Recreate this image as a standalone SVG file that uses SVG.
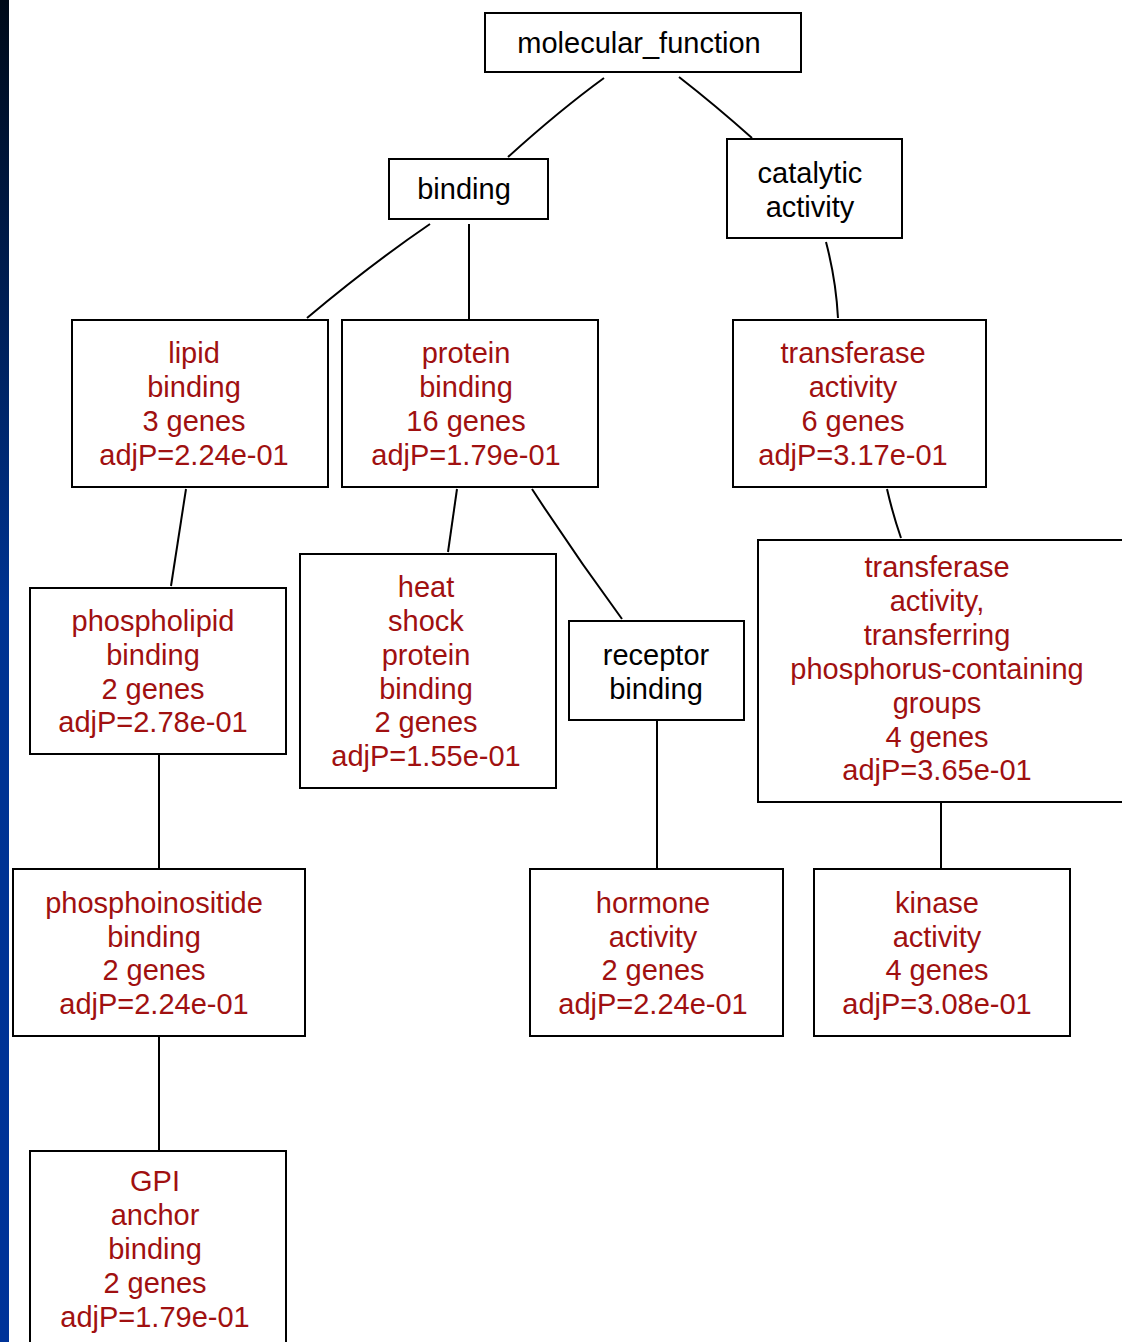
<svg xmlns="http://www.w3.org/2000/svg" width="1122" height="1342" viewBox="0 0 1122 1342">
<defs>
<linearGradient id="strip" x1="0" y1="0" x2="0" y2="1">
<stop offset="0" stop-color="#000a18"/>
<stop offset="0.45" stop-color="#003391"/>
<stop offset="1" stop-color="#003399"/>
</linearGradient>
</defs>
<style>
.box{fill:#ffffff;stroke:#000000;stroke-width:2}
.t{font-family:"Liberation Sans",Arial,sans-serif;font-size:29px;text-anchor:middle;fill:#a01010}
.k{fill:#000000}
.e{fill:none;stroke:#000000;stroke-width:2}
</style>
<rect x="0" y="0" width="1122" height="1342" fill="#ffffff"/>
<rect x="0" y="0" width="9" height="1342" fill="url(#strip)"/>
<g id="connectors">
<path class="e" d="M604,78 Q560,110 508,157"/>
<path class="e" d="M679,77 Q715,105 752,138"/>
<path class="e" d="M430,224 Q370,265 307,318"/>
<path class="e" d="M469,224 L469,320"/>
<path class="e" d="M826,242 Q836,280 838,318"/>
<path class="e" d="M186,489 L171,586"/>
<path class="e" d="M457,489 L448,552"/>
<path class="e" d="M532,489 Q575,555 622,619"/>
<path class="e" d="M887,489 Q893,515 901,538"/>
<path class="e" d="M159,754 L159,869"/>
<path class="e" d="M657,720 L657,869"/>
<path class="e" d="M941,802 L941,869"/>
<path class="e" d="M159,1036 L159,1151"/>
</g>
<g id="molecular_function">
<rect class="box" x="485" y="13" width="316" height="59"/>
<text class="t k" x="639" y="53">molecular_function</text>
</g>
<g id="binding">
<rect class="box" x="389" y="159" width="159" height="60"/>
<text class="t k" x="464" y="199">binding</text>
</g>
<g id="catalytic_activity">
<rect class="box" x="727" y="139" width="175" height="99"/>
<text class="t k" x="810" y="183">catalytic</text>
<text class="t k" x="810" y="217">activity</text>
</g>
<g id="lipid_binding">
<rect class="box" x="72" y="320" width="256" height="167"/>
<text class="t" x="194" y="363">lipid</text>
<text class="t" x="194" y="397">binding</text>
<text class="t" x="194" y="431">3 genes</text>
<text class="t" x="194" y="465">adjP=2.24e-01</text>
</g>
<g id="protein_binding">
<rect class="box" x="342" y="320" width="256" height="167"/>
<text class="t" x="466" y="363">protein</text>
<text class="t" x="466" y="397">binding</text>
<text class="t" x="466" y="431">16 genes</text>
<text class="t" x="466" y="465">adjP=1.79e-01</text>
</g>
<g id="transferase_activity">
<rect class="box" x="733" y="320" width="253" height="167"/>
<text class="t" x="853" y="363">transferase</text>
<text class="t" x="853" y="397">activity</text>
<text class="t" x="853" y="431">6 genes</text>
<text class="t" x="853" y="465">adjP=3.17e-01</text>
</g>
<g id="phospholipid_binding">
<rect class="box" x="30" y="588" width="256" height="166"/>
<text class="t" x="153" y="631">phospholipid</text>
<text class="t" x="153" y="665">binding</text>
<text class="t" x="153" y="699">2 genes</text>
<text class="t" x="153" y="732">adjP=2.78e-01</text>
</g>
<g id="heat_shock_protein_binding">
<rect class="box" x="300" y="554" width="256" height="234"/>
<text class="t" x="426" y="597">heat</text>
<text class="t" x="426" y="631">shock</text>
<text class="t" x="426" y="665">protein</text>
<text class="t" x="426" y="699">binding</text>
<text class="t" x="426" y="732">2 genes</text>
<text class="t" x="426" y="766">adjP=1.55e-01</text>
</g>
<g id="receptor_binding">
<rect class="box" x="569" y="621" width="175" height="99"/>
<text class="t k" x="656" y="665">receptor</text>
<text class="t k" x="656" y="699">binding</text>
</g>
<g id="transferase_phosphorus">
<rect class="box" x="758" y="540" width="370" height="262"/>
<text class="t" x="937" y="577">transferase</text>
<text class="t" x="937" y="611">activity,</text>
<text class="t" x="937" y="645">transferring</text>
<text class="t" x="937" y="679">phosphorus-containing</text>
<text class="t" x="937" y="713">groups</text>
<text class="t" x="937" y="747">4 genes</text>
<text class="t" x="937" y="780">adjP=3.65e-01</text>
</g>
<g id="phosphoinositide_binding">
<rect class="box" x="13" y="869" width="292" height="167"/>
<text class="t" x="154" y="913">phosphoinositide</text>
<text class="t" x="154" y="947">binding</text>
<text class="t" x="154" y="980">2 genes</text>
<text class="t" x="154" y="1014">adjP=2.24e-01</text>
</g>
<g id="hormone_activity">
<rect class="box" x="530" y="869" width="253" height="167"/>
<text class="t" x="653" y="913">hormone</text>
<text class="t" x="653" y="947">activity</text>
<text class="t" x="653" y="980">2 genes</text>
<text class="t" x="653" y="1014">adjP=2.24e-01</text>
</g>
<g id="kinase_activity">
<rect class="box" x="814" y="869" width="256" height="167"/>
<text class="t" x="937" y="913">kinase</text>
<text class="t" x="937" y="947">activity</text>
<text class="t" x="937" y="980">4 genes</text>
<text class="t" x="937" y="1014">adjP=3.08e-01</text>
</g>
<g id="gpi_anchor_binding">
<rect class="box" x="30" y="1151" width="256" height="200"/>
<text class="t" x="155" y="1191">GPI</text>
<text class="t" x="155" y="1225">anchor</text>
<text class="t" x="155" y="1259">binding</text>
<text class="t" x="155" y="1293">2 genes</text>
<text class="t" x="155" y="1327">adjP=1.79e-01</text>
</g>
</svg>
